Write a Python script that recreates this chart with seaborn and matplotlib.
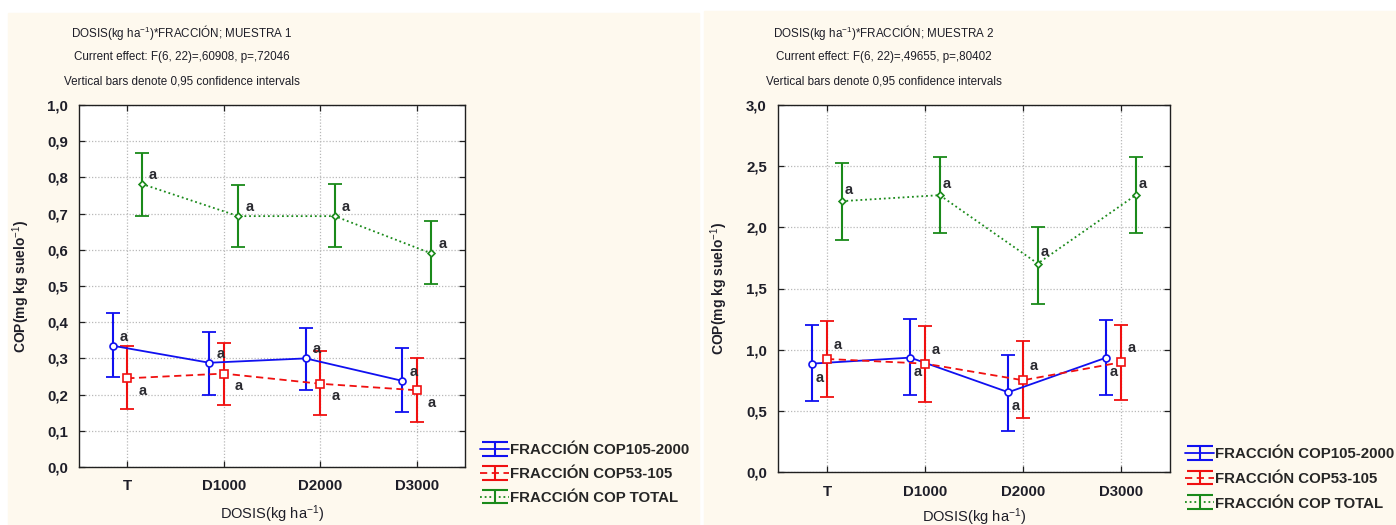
import numpy as np
import pandas as pd
import matplotlib
matplotlib.use("Agg")
import matplotlib.pyplot as plt
import seaborn as sns
from matplotlib.lines import Line2D
from matplotlib.patches import Rectangle
from matplotlib.container import ErrorbarContainer
from matplotlib.legend_handler import HandlerTuple, HandlerErrorbar

# ---------------- data ----------------
categories = ["T", "D1000", "D2000", "D3000"]
series = ["FRACCIÓN COP105-2000", "FRACCIÓN COP53-105", "FRACCIÓN COP TOTAL"]

# Muestra 1
m1_105_mean = [0.335, 0.288, 0.300, 0.238]
m1_105_lo = [0.250, 0.200, 0.213, 0.152]
m1_105_hi = [0.425, 0.372, 0.385, 0.328]
m1_53_mean = [0.245, 0.258, 0.230, 0.212]
m1_53_lo = [0.160, 0.172, 0.143, 0.123]
m1_53_hi = [0.335, 0.343, 0.320, 0.300]
m1_tot_mean = [0.782, 0.693, 0.693, 0.590]
m1_tot_lo = [0.693, 0.607, 0.607, 0.505]
m1_tot_hi = [0.868, 0.780, 0.783, 0.680]

# Muestra 2
m2_105_mean = [0.886, 0.935, 0.652, 0.935]
m2_105_lo = [0.578, 0.627, 0.333, 0.627]
m2_105_hi = [1.205, 1.254, 0.960, 1.243]
m2_53_mean = [0.924, 0.886, 0.750, 0.897]
m2_53_lo = [0.616, 0.575, 0.442, 0.589]
m2_53_hi = [1.233, 1.194, 1.069, 1.203]
m2_tot_mean = [2.214, 2.263, 1.704, 2.263]
m2_tot_lo = [1.895, 1.955, 1.377, 1.955]
m2_tot_hi = [2.522, 2.572, 2.004, 2.572]

letters = ["a", "a", "a", "a"]

titles1 = ["DOSIS(kg ha$^{-1}$)*FRACCIÓN; MUESTRA 1",
           "Current effect: F(6, 22)=,60908, p=,72046",
           "Vertical bars denote 0,95 confidence intervals"]
titles2 = ["DOSIS(kg ha$^{-1}$)*FRACCIÓN; MUESTRA 2",
           "Current effect: F(6, 22)=,49655, p=,80402",
           "Vertical bars denote 0,95 confidence intervals"]
y_ticks1 = [0.0, 0.1, 0.2, 0.3, 0.4, 0.5, 0.6, 0.7, 0.8, 0.9, 1.0]
y_ticks2 = [0.0, 0.5, 1.0, 1.5, 2.0, 2.5, 3.0]
xlabel = "DOSIS(kg ha$^{-1}$)"
ylabel = "COP(mg kg suelo$^{-1}$)"

# ---------------- style ----------------
sns.set_theme(style="white")
plt.rcParams["font.family"] = ["Liberation Sans", "DejaVu Sans"]
plt.rcParams["mathtext.fontset"] = "custom"
plt.rcParams["mathtext.rm"] = "Liberation Sans"
plt.rcParams["mathtext.it"] = "Liberation Sans:italic"
plt.rcParams["mathtext.bf"] = "Liberation Sans:bold"

CREAM = "#FEF9EE"
TXT = "#1E1E28"
colors = ["#1010F0", "#F01010", "#1A8A1A"]
linestyles = ["-", (0, (4, 2.5)), (0, (1, 1.6))]
markers = ["o", "s", "D"]
msizes = [5, 5.5, 3.5]
offsets = [-0.15, 0.0, 0.15]

W, H = 1396, 525
fig = plt.figure(figsize=(W / 100, H / 100), dpi=100, facecolor="white")
fig.patches.append(Rectangle((8 / W, 0), (699 - 8) / W, (H - 13) / H,
                             transform=fig.transFigure, color=CREAM, zorder=-10))
fig.patches.append(Rectangle((704 / W, 0), (W - 704) / W, (H - 11) / H,
                             transform=fig.transFigure, color=CREAM, zorder=-10))


def px_axes(x0, x1, ytop, ybot):
    return fig.add_axes([x0 / W, (H - ybot) / H, (x1 - x0) / W, (ybot - ytop) / H])


panels = [
    dict(ax=px_axes(79, 465, 105, 467), titles=titles1, tcx=182, ticks=y_ticks1, ylim=(0, 1.0),
         data=[(m1_105_mean, m1_105_lo, m1_105_hi), (m1_53_mean, m1_53_lo, m1_53_hi),
               (m1_tot_mean, m1_tot_lo, m1_tot_hi)],
         aoff=[(8, 6.5), (11, -9), (8, 6.5)], leg=(480, 443), lsp=0.66, xly=-0.10),
    dict(ax=px_axes(778, 1170, 105, 472), titles=titles2, tcx=884, ticks=y_ticks2, ylim=(0, 3.0),
         data=[(m2_105_mean, m2_105_lo, m2_105_hi), (m2_53_mean, m2_53_lo, m2_53_hi),
               (m2_tot_mean, m2_tot_lo, m2_tot_hi)],
         aoff=[(5, -10), (8, 10), (5, 8)], leg=(1185, 447), lsp=0.72, xly=-0.093),
]

for p in panels:
    ax = p["ax"]
    ax.set_facecolor("white")
    base = np.arange(len(categories))
    handles = []
    for i, (mean, lo, hi) in enumerate(p["data"]):
        x = base + offsets[i]
        df = pd.DataFrame({"x": x, "y": mean})
        sns.lineplot(data=df, x="x", y="y", ax=ax, color=colors[i], linestyle=linestyles[i],
                     linewidth=1.3, marker=markers[i], markersize=msizes[i],
                     markerfacecolor="white", markeredgecolor=colors[i], markeredgewidth=1.2,
                     zorder=3, legend=False)
        mean_a = np.array(mean)
        yerr = [mean_a - np.array(lo), np.array(hi) - mean_a]
        ax.errorbar(x, mean, yerr=yerr, fmt="none", ecolor=colors[i], elinewidth=1.5,
                    capsize=5, capthick=1.3, zorder=2)
        for xi, yi, t in zip(x, mean, letters):
            ax.annotate(t, (xi, yi), xytext=p["aoff"][i], textcoords="offset points",
                        ha="center", va="center", fontsize=10.5, fontweight="bold",
                        color="#2A2A30", zorder=4)
        # legend proxies: line + error-bar glyph with wide caps
        proxy = Line2D([], [], color=colors[i], linestyle=linestyles[i], linewidth=1.3)
        eb_proxy = ax.errorbar([np.nan], [np.nan], yerr=[[np.nan], [np.nan]], fmt="none",
                               ecolor=colors[i], elinewidth=1.5, capsize=9.5, capthick=1.5)
        handles.append((proxy, eb_proxy))

    ax.set_xlim(-0.5, len(categories) - 0.5)
    ax.set_ylim(*p["ylim"])
    ax.set_xticks(base)
    ax.set_xticklabels(categories)
    ax.set_yticks(p["ticks"])
    ax.set_yticklabels(["{:.1f}".format(v).replace(".", ",") for v in p["ticks"]])
    ax.grid(True, color="#B8B8B8", linestyle=(0, (1, 1.5)), linewidth=0.9)
    ax.set_axisbelow(True)
    for s in ax.spines.values():
        s.set_visible(True)
        s.set_color("#202020")
        s.set_linewidth(1.0)
    ax.tick_params(direction="in", length=4, width=0.9, top=True, right=True,
                   bottom=True, left=True, color="#202020")
    ax.tick_params(axis="x", pad=9, labelsize=10.8, labelcolor=TXT)
    ax.tick_params(axis="y", pad=8, labelsize=10.8, labelcolor=TXT)
    for lab in ax.get_xticklabels() + ax.get_yticklabels():
        lab.set_fontweight("bold")
    ax.set_xlabel(xlabel, fontsize=10.5, color=TXT)
    ax.set_ylabel(ylabel, fontsize=10, fontweight="bold", color=TXT)
    ax.xaxis.set_label_coords(0.5, p["xly"])
    ax.yaxis.set_label_coords(-0.122, 0.5)

    for t, yy in zip(p["titles"], [32, 57, 81]):
        fig.text(p["tcx"] / W, 1 - yy / H, t, ha="center", va="center", fontsize=8.4, color=TXT)

    lx, ly = p["leg"]
    fig.legend(handles, series, loc="upper left", bbox_to_anchor=(lx / W, 1 - ly / H),
               bbox_transform=fig.transFigure, frameon=False,
               handler_map={tuple: HandlerTuple(ndivide=1),
                            ErrorbarContainer: HandlerErrorbar(yerr_size=0.46)},
               handlelength=1.95, handletextpad=0.05, labelspacing=p["lsp"],
               borderaxespad=0, borderpad=0,
               prop={"weight": "bold", "size": 10.8})

fig.savefig("out.png", dpi=100, facecolor="white")
